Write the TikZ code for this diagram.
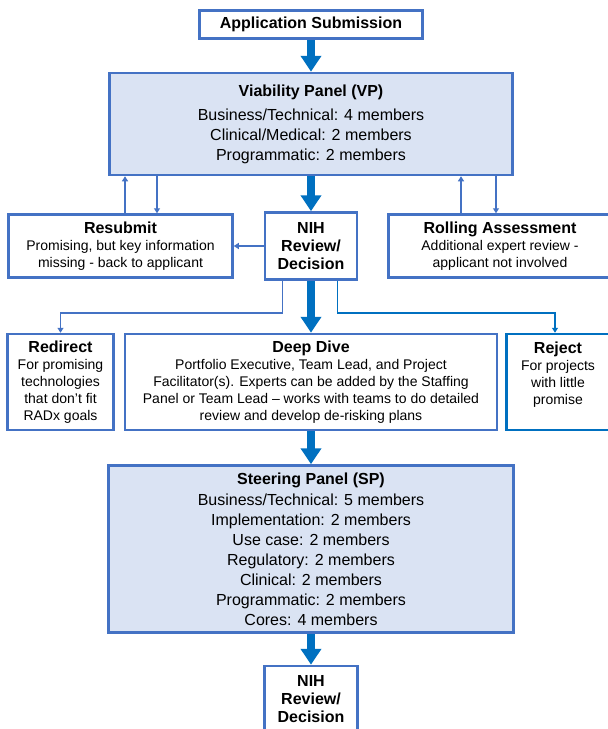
\documentclass[tikz,border=0pt]{standalone}
\usepackage{fontspec}
\setmainfont{Liberation Sans}
\usepackage{tikz}
\usetikzlibrary{arrows.meta,positioning}
\definecolor{boxblue}{RGB}{68,114,196}
\definecolor{flowblue}{RGB}{0,112,192}
\definecolor{panelfill}{RGB}{218,227,243}
\newcommand{\boxtitle}[1]{{\fontsize{16}{19}\selectfont\bfseries #1}}
\tikzstyle{plainbox}=[
	rectangle,
	draw=boxblue,
	line width=2.5pt,
	fill=white,
	align=center,
	inner sep=0pt,
	font=\fontsize{14}{17}\selectfont
]
\tikzstyle{panel}=[
	plainbox,
	fill=panelfill,
	font=\fontsize{16}{20}\selectfont
]
\tikzstyle{mainflow}=[
	->,
	>={Triangle[width=20pt,length=16pt]},
	line width=8pt,
	draw=flowblue
]
\tikzstyle{thinflow}=[
	->,
	>={Triangle[width=6pt,length=5pt]},
	line width=1.6pt,
	draw=boxblue
]

\begin{document}
\begin{tikzpicture}[x=1pt,y=-1pt]
\useasboundingbox (0,0) rectangle (608,729);
% central column
\node [plainbox, minimum width=223pt, minimum height=28pt] (appsub) at (311,24.5) {\boxtitle{Application Submission}};
\node [panel, minimum width=403pt, minimum height=102pt] (vp) [below=32pt of appsub] {\boxtitle{Viability Panel (VP)}\\[4pt]
	Business/Technical: 4 members\\ Clinical/Medical: 2 members\\ Programmatic: 2 members}
	edge [mainflow, <-] (appsub);
\node [plainbox, minimum width=92pt, minimum height=67pt] (nihA) [below=35pt of vp] {\boxtitle{NIH}\\[1pt]\boxtitle{Review/}\\[1pt]\boxtitle{Decision}}
	edge [mainflow, <-] (vp);
\node [plainbox, minimum width=372pt, minimum height=96pt] (deepdive) [below=52pt of nihA] {\boxtitle{Deep Dive}\\
	Portfolio Executive, Team Lead, and Project\\ Facilitator(s). Experts can be added by the Staffing\\
	Panel or Team Lead -- works with teams to do detailed\\ review and develop de-risking plans}
	edge [mainflow, <-] (nihA);
\node [panel, minimum width=405pt, minimum height=167pt] (sp) [below=33pt of deepdive] {\boxtitle{Steering Panel (SP)}\\[1pt]
	Business/Technical: 5 members\\ Implementation: 2 members\\ Use case: 2 members\\ Regulatory: 2 members\\
	Clinical: 2 members\\ Programmatic: 2 members\\ Cores: 4 members}
	edge [mainflow, <-] (deepdive);
\node [plainbox, minimum width=93pt, minimum height=67pt] (nihB) [below=31pt of sp] {\boxtitle{NIH}\\[1pt]\boxtitle{Review/}\\[1pt]\boxtitle{Decision}}
	edge [mainflow, <-] (sp);
% side boxes
\node [plainbox, minimum width=224pt, minimum height=63pt] (resubmit) [left=30pt of nihA] {\boxtitle{Resubmit}\\
	Promising, but key information\\ missing - back to applicant}
	edge [thinflow, <-] (nihA);
\node [plainbox, minimum width=223pt, minimum height=63pt] (rolling) [right=29pt of nihA] {\boxtitle{Rolling Assessment}\\
	Additional expert review -\\ applicant not involved};
\node [plainbox, minimum width=106pt, minimum height=96pt] (redirect) [left=9pt of deepdive] {\boxtitle{Redirect}\\
	For promising\\ technologies\\ that don’t fit\\ RADx goals};
\node [plainbox, draw=flowblue, minimum width=103pt, minimum height=96pt] (reject) [right=7pt of deepdive] {\boxtitle{Reject}\\
	For projects\\ with little\\ promise\\ \mbox{}};
% loops back to the viability panel
\draw [thinflow] ([xshift=4.5pt]resubmit.north) -- ([xshift=4.5pt]resubmit.north |- vp.south);
\draw [thinflow] ([xshift=36.5pt]resubmit.north |- vp.south) -- ([xshift=36.5pt]resubmit.north);
\draw [thinflow] ([xshift=-39pt]rolling.north) -- ([xshift=-39pt]rolling.north |- vp.south);
\draw [thinflow] ([xshift=-4pt]rolling.north |- vp.south) -- ([xshift=-4pt]rolling.north);
% decisions
\draw [thinflow] ([xshift=-28.5pt]nihA.south) |- ([yshift=20pt]redirect.north) -- (redirect.north);
\draw [thinflow, draw=flowblue] ([xshift=26.5pt]nihA.south) |- ([yshift=20pt,xshift=-3pt]reject.north) -- ([xshift=-3pt]reject.north);
\end{tikzpicture}
\end{document}
